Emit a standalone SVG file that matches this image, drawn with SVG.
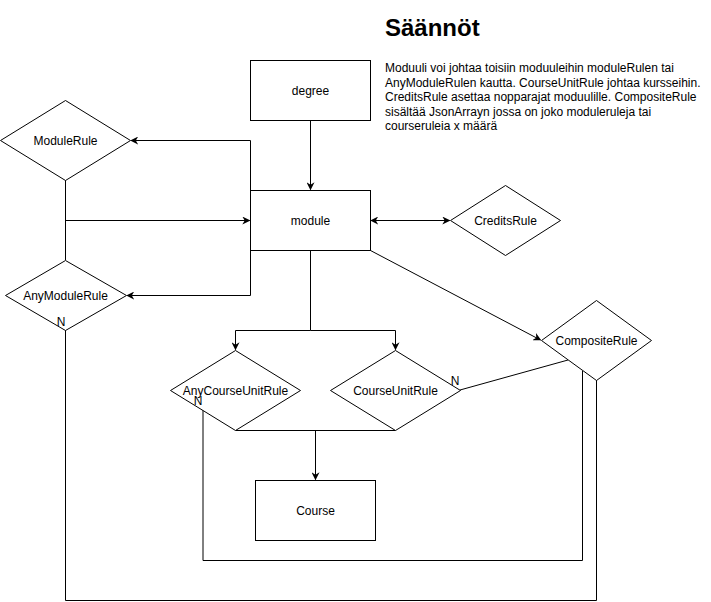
<svg xmlns="http://www.w3.org/2000/svg" width="711" height="602" viewBox="0 0 711 602">
<style>
.shape{fill:#fff;stroke:#000;stroke-width:1}
.edge{fill:none;stroke:#000;stroke-width:1}
.lbl{font-family:"Liberation Sans",Arial,sans-serif;font-size:12px;fill:#000;text-anchor:middle;dominant-baseline:central}
.body{font-family:"Liberation Sans",Arial,sans-serif;font-size:12px;fill:#000}
.title{font-family:"Liberation Sans",Arial,sans-serif;font-size:24px;font-weight:bold;fill:#000}
</style>
<defs>
<marker id="arr" viewBox="0 0 10 10" refX="9" refY="5" markerWidth="8" markerHeight="8" markerUnits="userSpaceOnUse" orient="auto-start-reverse">
<path d="M0,0 L10,5 L0,10 L3,5 z" fill="#000"/>
</marker>
</defs>
<rect width="711" height="602" fill="#fff"/>

<g id="connectors">
<path class="edge" d="M310.5,120.5 L310.5,189.5" marker-end="url(#arr)"/>
<path class="edge" d="M250.5,190.5 L250.5,140.5 L131,140.5" marker-end="url(#arr)"/>
<path class="edge" d="M250.5,250.5 L250.5,295.5 L127,295.5" marker-end="url(#arr)"/>
<path class="edge" d="M65.5,180 L65.5,260"/>
<path class="edge" d="M65.5,220.5 L249.5,220.5" marker-end="url(#arr)"/>
<path class="edge" d="M371,220.5 L449.5,220.5" marker-start="url(#arr)" marker-end="url(#arr)"/>
<path class="edge" d="M310.5,250.5 L310.5,330.5 L235.5,330.5 L235.5,349.5" marker-end="url(#arr)"/>
<path class="edge" d="M310.5,330.5 L395.5,330.5 L395.5,349.5" marker-end="url(#arr)"/>
<path class="edge" d="M370.5,250.5 L540.5,340" marker-end="url(#arr)"/>
<path class="edge" d="M460,390 L568,360"/>
<path class="edge" d="M235.5,430.5 L395.5,430.5"/>
<path class="edge" d="M315.5,430.5 L315.5,479.5" marker-end="url(#arr)"/>
<path class="edge" d="M203,409 L203,560.5 L582.5,560.5 L582.5,371"/>
<path class="edge" d="M65.5,330 L65.5,600.5 L596.5,600.5 L596.5,380"/>
</g>

<g id="degree">
<rect class="shape" x="250.5" y="60.5" width="120" height="60"/>
<text class="lbl" x="310.5" y="90.5">degree</text>
</g>
<g id="module">
<rect class="shape" x="250.5" y="190.5" width="120" height="60"/>
<text class="lbl" x="310.5" y="220.5">module</text>
</g>
<g id="course">
<rect class="shape" x="255.5" y="480.5" width="120" height="60"/>
<text class="lbl" x="315.5" y="510.5">Course</text>
</g>
<g id="modulerule">
<path class="shape" d="M0.5,140.5 L65.5,100.5 L130.5,140.5 L65.5,180.5 Z"/>
<text class="lbl" x="65.5" y="140.5">ModuleRule</text>
</g>
<g id="anymodulerule">
<path class="shape" d="M5.5,295.5 L65.5,260.5 L126.5,295.5 L65.5,330.5 Z"/>
<text class="lbl" x="65.5" y="295.5">AnyModuleRule</text>
<text class="lbl" x="61" y="322">N</text>
</g>
<g id="creditsrule">
<path class="shape" d="M450.5,220.5 L505.5,185.5 L560.5,220.5 L505.5,255.5 Z"/>
<text class="lbl" x="505.5" y="220.5">CreditsRule</text>
</g>
<g id="compositerule">
<path class="shape" d="M541.5,340.5 L596.5,300.5 L651.5,340.5 L596.5,380.5 Z"/>
<text class="lbl" x="596.5" y="340.5">CompositeRule</text>
</g>
<g id="anycourseunitrule">
<path class="shape" d="M170.5,390.5 L235.5,350.5 L300.5,390.5 L235.5,430.5 Z"/>
<text class="lbl" x="235.5" y="390.5">AnyCourseUnitRule</text>
<text class="lbl" x="198" y="401">N</text>
</g>
<g id="courseunitrule">
<path class="shape" d="M330.5,390.5 L395.5,350.5 L460.5,390.5 L395.5,430.5 Z"/>
<text class="lbl" x="395.5" y="390.5">CourseUnitRule</text>
<text class="lbl" x="455" y="381">N</text>
</g>
<g id="notes">
<text class="title" x="385" y="36">Säännöt</text>
<text class="body" x="385" y="72">Moduuli voi johtaa toisiin moduuleihin moduleRulen tai</text>
<text class="body" x="385" y="86.5">AnyModuleRulen kautta. CourseUnitRule johtaa kursseihin.</text>
<text class="body" x="385" y="101">CreditsRule asettaa nopparajat moduulille. CompositeRule</text>
<text class="body" x="385" y="115.5">sisältää JsonArrayn jossa on joko moduleruleja tai</text>
<text class="body" x="385" y="130">courseruleia x määrä</text>
</g>
</svg>
